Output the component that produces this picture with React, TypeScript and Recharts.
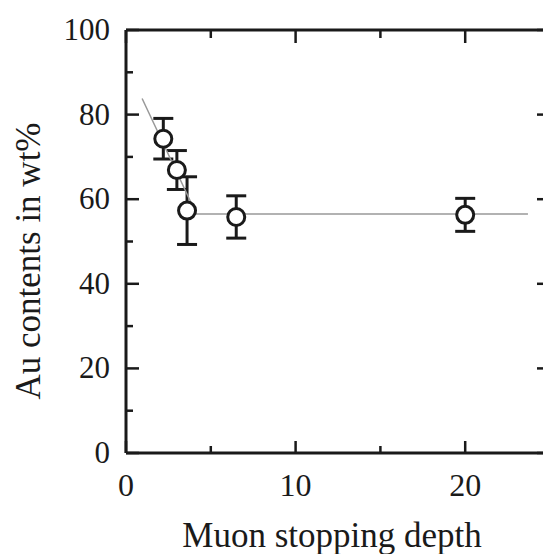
import React from 'react';
import { ComposedChart, Scatter, ErrorBar, XAxis, YAxis } from 'recharts';

// measured points
const depth = [2.2, 3.0, 3.6, 6.5, 20.0];
const auContent = [74.3, 66.9, 57.3, 55.8, 56.3];
const auError = [4.8, 4.6, 8.0, 5.0, 3.9];

// fitted curve (gray)
const fitDepth = [0.95, 4.15, 23.7];
const fitContent = [83.8, 56.5, 56.5];

const xTicks = [0, 5, 10, 15, 20, 25];
const xTickLabels = [0, 10, 20];
const yTicks = [0, 10, 20, 30, 40, 50, 60, 70, 80, 90, 100];
const yTickLabels = [0, 20, 40, 60, 80, 100];

const points = depth.map((x, i) => ({ x, y: auContent[i], err: auError[i] }));
const fit = fitDepth.map((x, i) => ({ x, y: fitContent[i] }));

const INK = '#1a1a1a';
const FONT = '"Liberation Serif", "DejaVu Serif", serif';

const CHART_W = 570;
const MARGIN = { top: 29, right: 19, bottom: 0, left: 0 };
// plot frame edges (top axis height 1, right axis width 1)
const FRAME_TOP = MARGIN.top + 1;
const FRAME_RIGHT = CHART_W - MARGIN.right - 1;

const BottomTick = (props: any) => {
  const { x, y, payload } = props;
  const v = payload.value;
  const len = v % 10 === 0 ? 12 : 7;
  return (
    <g>
      <path d={`M${x},${y}V${y - len}`} stroke={INK} strokeWidth={2.5} />
      {/* matching inward tick on the top frame */}
      <path d={`M${x},${FRAME_TOP}V${FRAME_TOP + len + 1}`} stroke={INK} strokeWidth={2.5} />
      {xTickLabels.includes(v) && (
        <text x={x} y={y + 43} textAnchor="middle" fontFamily={FONT} fontSize={32} fill={INK}>
          {v}
        </text>
      )}
    </g>
  );
};

const LeftTick = (props: any) => {
  const { x, y, payload } = props;
  const v = payload.value;
  const len = v % 20 === 0 ? 13 : 7;
  return (
    <g>
      <path d={`M${x},${y}H${x + len}`} stroke={INK} strokeWidth={2.5} />
      {/* matching inward tick on the right frame */}
      <path d={`M${FRAME_RIGHT},${y}H${FRAME_RIGHT - len}`} stroke={INK} strokeWidth={2.5} />
      {yTickLabels.includes(v) && (
        <text x={x - 16} y={y + 10} textAnchor="end" fontFamily={FONT} fontSize={31} fill={INK}>
          {v}
        </text>
      )}
    </g>
  );
};

const OpenCircle = (props: any) => (
  <circle cx={props.cx} cy={props.cy} r={8.5} fill="#fff" stroke={INK} strokeWidth={3} />
);

const App: React.FC = () => {
  return (
    <div style={{ position: 'fixed', left: 0, top: 0, width: 543, height: 554, overflow: 'hidden', background: '#fff' }}>
      <ComposedChart width={CHART_W} height={554} margin={MARGIN}>
        <XAxis
          dataKey="x"
          type="number"
          domain={[0, 25]}
          ticks={xTicks}
          interval={0}
          height={101}
          tickSize={0}
          tickMargin={0}
          tickLine={false}
          tick={<BottomTick />}
          axisLine={{ stroke: INK, strokeWidth: 3 }}
        />
        <XAxis
          xAxisId="top"
          dataKey="x"
          orientation="top"
          type="number"
          domain={[0, 25]}
          ticks={xTicks}
          height={1}
          tickLine={false}
          tick={false}
          axisLine={{ stroke: INK, strokeWidth: 3 }}
        />
        <YAxis
          dataKey="y"
          type="number"
          domain={[0, 100]}
          ticks={yTicks}
          interval={0}
          width={126}
          tickSize={0}
          tickMargin={0}
          tickLine={false}
          tick={<LeftTick />}
          axisLine={{ stroke: INK, strokeWidth: 3 }}
        />
        <YAxis
          yAxisId="right"
          dataKey="y"
          orientation="right"
          type="number"
          domain={[0, 100]}
          ticks={yTicks}
          width={1}
          tickLine={false}
          tick={false}
          axisLine={{ stroke: INK, strokeWidth: 3 }}
        />
        {/* fit line uses the top/right axes (same scales) so they get drawn */}
        <Scatter
          data={fit}
          xAxisId="top"
          yAxisId="right"
          line={{ stroke: '#999', strokeWidth: 1.5 }}
          lineType="joint"
          shape={() => <g />}
          isAnimationActive={false}
        />
        <Scatter data={points} shape={<OpenCircle />} isAnimationActive={false}>
          <ErrorBar dataKey="err" direction="y" width={10} stroke={INK} strokeWidth={3} isAnimationActive={false} />
        </Scatter>
        <text x={332} y={547} textAnchor="middle" fontFamily={FONT} fontSize={35} fill={INK}>
          Muon stopping depth
        </text>
        <text
          x={40}
          y={261}
          transform="rotate(-90 40 261)"
          textAnchor="middle"
          fontFamily={FONT}
          fontSize={35}
          fill={INK}
        >
          Au contents in wt%
        </text>
      </ComposedChart>
    </div>
  );
};

export default App;
